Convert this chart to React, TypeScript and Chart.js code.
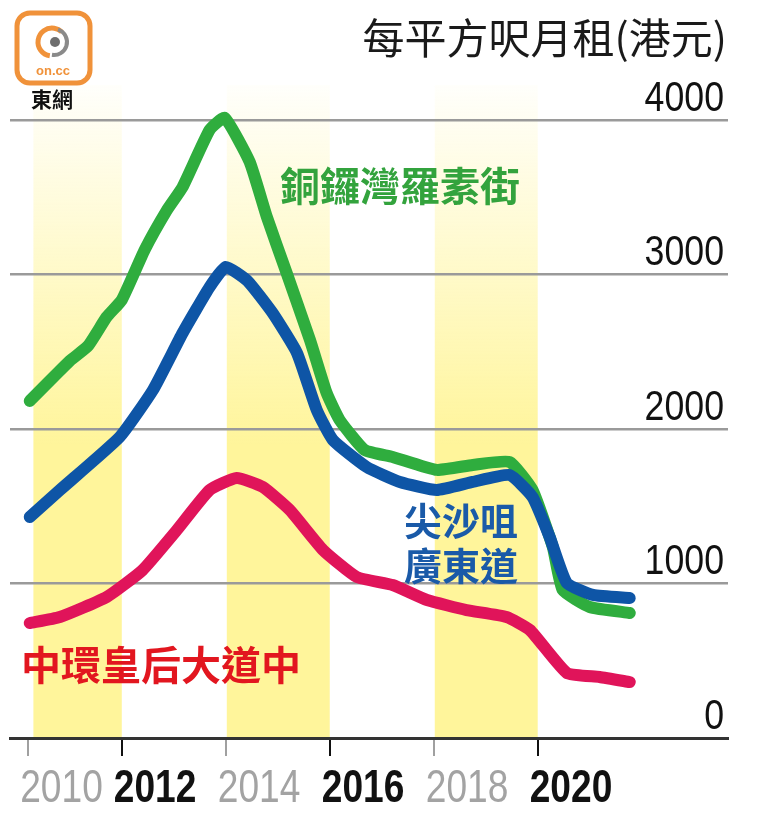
import React, { useEffect, useRef } from 'react';
import { Chart, registerables } from 'chart.js';
Chart.register(...registerables);

// ---- data ----
const tickYears = [2010.2, 2012, 2014, 2016, 2018, 2020];
const tickLabels = ['2010', '2012', '2014', '2016', '2018', '2020'];
const yTickValues = [0, 1000, 2000, 3000, 4000];
const bandStarts = [2010.3, 2014.02, 2018.02];
const bandEnds = [2012, 2016, 2020];

const seriesNames = ['銅鑼灣羅素街', '尖沙咀廣東道', '中環皇后大道中'];

const cwbYears = [2010.23, 2011.0, 2011.35, 2011.71, 2012.0, 2012.44, 2012.87, 2013.17, 2013.69, 2013.98, 2014.46, 2014.79, 2015.17, 2015.62, 2015.94, 2016.19, 2016.67, 2017.21, 2018.06, 2018.75, 2019.46, 2019.9, 2020.29, 2020.48, 2021.0, 2021.77];
const cwbValues = [2181, 2440, 2537, 2725, 2835, 3159, 3417, 3566, 3935, 4013, 3728, 3372, 3010, 2576, 2233, 2058, 1864, 1819, 1735, 1767, 1786, 1605, 1236, 958, 848, 809];

const tstYears = [2010.23, 2010.81, 2011.96, 2012.6, 2013.17, 2013.69, 2014.0, 2014.42, 2014.9, 2015.37, 2015.75, 2016.06, 2016.71, 2017.35, 2018.06, 2018.75, 2019.46, 2019.9, 2020.23, 2020.56, 2021.06, 2021.77];
const tstValues = [1430, 1605, 1948, 2252, 2621, 2919, 3049, 2958, 2751, 2492, 2123, 1929, 1754, 1657, 1605, 1657, 1702, 1560, 1301, 1003, 926, 906];

const centralYears = [2010.23, 2010.81, 2011.71, 2012.4, 2013.06, 2013.69, 2014.21, 2014.71, 2015.23, 2015.87, 2016.52, 2017.21, 2017.87, 2018.63, 2019.4, 2019.85, 2020.56, 2021.19, 2021.77];
const centralValues = [744, 783, 913, 1087, 1346, 1605, 1683, 1625, 1476, 1217, 1042, 990, 893, 828, 783, 699, 421, 395, 362];

const toPoints = (xs: number[], ys: number[]) => xs.map((x, i) => ({ x, y: ys[i] }));

const SANS = '"Liberation Sans", Arial, sans-serif';
const CJK = '"Noto Sans CJK TC", "Noto Sans CJK SC", sans-serif';

const bandsPlugin = {
  id: 'bands',
  beforeDraw(chart: any) {
    const { ctx, chartArea, scales } = chart;
    const top = chartArea.top - 4;
    const g = ctx.createLinearGradient(0, top, 0, chartArea.bottom);
    g.addColorStop(0, 'rgba(255,245,155,0.04)');
    g.addColorStop(0.55, 'rgba(255,245,155,1)');
    g.addColorStop(1, 'rgba(255,245,155,1)');
    ctx.save();
    ctx.fillStyle = g;
    bandStarts.forEach((s, i) => {
      const x0 = scales.x.getPixelForValue(s);
      const x1 = scales.x.getPixelForValue(bandEnds[i]);
      ctx.fillRect(x0, top, x1 - x0, chartArea.bottom - top);
    });
    ctx.restore();
  },
};

const labelsPlugin = {
  id: 'axisLabels',
  afterDraw(chart: any) {
    const { ctx, chartArea } = chart;
    const xs = chart.scales.x;
    const ys = chart.scales.y;
    ctx.save();
    ctx.textBaseline = 'alphabetic';
    // x tick labels (condensed look)
    xs.ticks.forEach((t: any, i: number) => {
      const px = xs.getPixelForValue(t.value);
      const strong = i % 2 === 1;
      ctx.save();
      ctx.translate(px - 8, 802);
      ctx.scale(0.79, 1);
      ctx.textAlign = 'left';
      ctx.font = `${strong ? 700 : 400} 47px ${SANS}`;
      ctx.fillStyle = strong ? '#111' : '#a3a3a3';
      ctx.fillText(tickLabels[i], 0, 0);
      ctx.restore();
    });
    // y tick labels
    ys.ticks.forEach((t: any) => {
      const py = ys.getPixelForValue(t.value);
      ctx.save();
      ctx.translate(chartArea.right - 4, py - 9);
      ctx.scale(0.85, 1);
      ctx.textAlign = 'right';
      ctx.font = `400 42px ${SANS}`;
      ctx.fillStyle = '#111';
      ctx.fillText(String(t.value), 0, 0);
      ctx.restore();
    });
    ctx.restore();
  },
};

const decorPlugin = {
  id: 'decor',
  afterDraw(chart: any) {
    const { ctx } = chart;
    ctx.save();
    // title
    ctx.fillStyle = '#1a1a1a';
    ctx.font = `400 42px ${CJK}`;
    ctx.textAlign = 'right';
    ctx.textBaseline = 'middle';
    ctx.fillText('每平方呎月租(港元)', 727, 38);

    // series labels
    ctx.textAlign = 'left';
    ctx.font = `700 40px ${CJK}`;
    ctx.fillStyle = '#33a33d';
    ctx.fillText(seriesNames[0], 280, 186);
    ctx.font = `700 38px ${CJK}`;
    ctx.fillStyle = '#1a5aa8';
    ctx.fillText(seriesNames[1].slice(0, 3), 404, 521);
    ctx.fillText(seriesNames[1].slice(3), 404, 566);
    ctx.font = `700 40px ${CJK}`;
    ctx.fillStyle = '#e2161f';
    ctx.fillText(seriesNames[2], 21, 665);

    // logo
    const lx = 17, ly = 13, lw = 73, lh = 70, r = 13;
    ctx.strokeStyle = '#f0923a';
    ctx.lineWidth = 5;
    ctx.beginPath();
    ctx.moveTo(lx + r, ly);
    ctx.arcTo(lx + lw, ly, lx + lw, ly + lh, r);
    ctx.arcTo(lx + lw, ly + lh, lx, ly + lh, r);
    ctx.arcTo(lx, ly + lh, lx, ly, r);
    ctx.arcTo(lx, ly, lx + lw, ly, r);
    ctx.closePath();
    ctx.stroke();
    ctx.lineWidth = 5;
    ctx.strokeStyle = '#f0923a';
    ctx.beginPath();
    ctx.arc(52, 42, 14, Math.PI * 0.55, Math.PI * 1.75);
    ctx.stroke();
    ctx.strokeStyle = '#8a8a8a';
    ctx.lineWidth = 4;
    ctx.beginPath();
    ctx.arc(54, 42, 13, -Math.PI * 0.4, Math.PI * 0.55);
    ctx.stroke();
    ctx.fillStyle = '#6e6e6e';
    ctx.beginPath();
    ctx.arc(55, 42, 5, 0, Math.PI * 2);
    ctx.fill();
    ctx.fillStyle = '#f0923a';
    ctx.font = `700 13px ${SANS}`;
    ctx.textAlign = 'center';
    ctx.textBaseline = 'middle';
    ctx.fillText('on.cc', 53, 71);
    ctx.fillStyle = '#111';
    ctx.font = `700 21px ${CJK}`;
    ctx.fillText('東網', 52, 99);
    ctx.restore();
  },
};

export default function App() {
  const ref = useRef<HTMLCanvasElement>(null);
  useEffect(() => {
    if (!ref.current) return;
    const chart = new Chart(ref.current, {
      type: 'line',
      data: {
        datasets: [
          {
            label: seriesNames[1],
            data: toPoints(tstYears, tstValues),
            borderColor: '#0e55a6',
            order: 0,
          },
          {
            label: seriesNames[0],
            data: toPoints(cwbYears, cwbValues),
            borderColor: '#2fad3e',
            order: 1,
          },
          {
            label: seriesNames[2],
            data: toPoints(centralYears, centralValues),
            borderColor: '#e0145a',
            order: 2,
          },
        ].map((d) => ({
          ...d,
          borderWidth: 12,
          pointRadius: 0,
          tension: 0.15,
          borderJoinStyle: 'round' as const,
          borderCapStyle: 'round' as const,
          fill: false,
        })),
      },
      options: {
        animation: false,
        responsive: false,
        maintainAspectRatio: false,
        layout: { padding: { left: 10, right: 52, top: 89, bottom: 67 } },
        plugins: { legend: { display: false }, tooltip: { enabled: false } },
        scales: {
          x: {
            type: 'linear',
            min: 2009.85,
            max: 2023.66,
            afterBuildTicks: (scale: any) => {
              scale.ticks = tickYears.map((v) => ({ value: v }));
            },
            grid: {
              drawOnChartArea: false,
              drawTicks: true,
              tickLength: 18,
              lineWidth: 2,
              color: (c: any) => (c.index % 2 === 0 ? '#a0a0a0' : '#111'),
            },
            border: { display: true, color: '#333', width: 3 },
            ticks: { display: false },
          },
          y: {
            type: 'linear',
            position: 'right',
            min: 0,
            max: 4200,
            afterBuildTicks: (scale: any) => {
              scale.ticks = yTickValues.map((v) => ({ value: v }));
            },
            grid: {
              drawTicks: false,
              lineWidth: 2.5,
              color: (c: any) => (c.tick && c.tick.value === 0 ? 'rgba(0,0,0,0)' : '#9a9a9a'),
            },
            border: { display: false },
            ticks: { display: false },
          },
        },
      },
      plugins: [bandsPlugin, labelsPlugin, decorPlugin],
    } as any);
    return () => chart.destroy();
  }, []);
  return (
    <div style={{ position: 'absolute', left: 0, top: 0, width: 780, height: 823, background: '#fff' }}>
      <canvas ref={ref} width={780} height={823} style={{ width: 780, height: 823 }} />
    </div>
  );
}
